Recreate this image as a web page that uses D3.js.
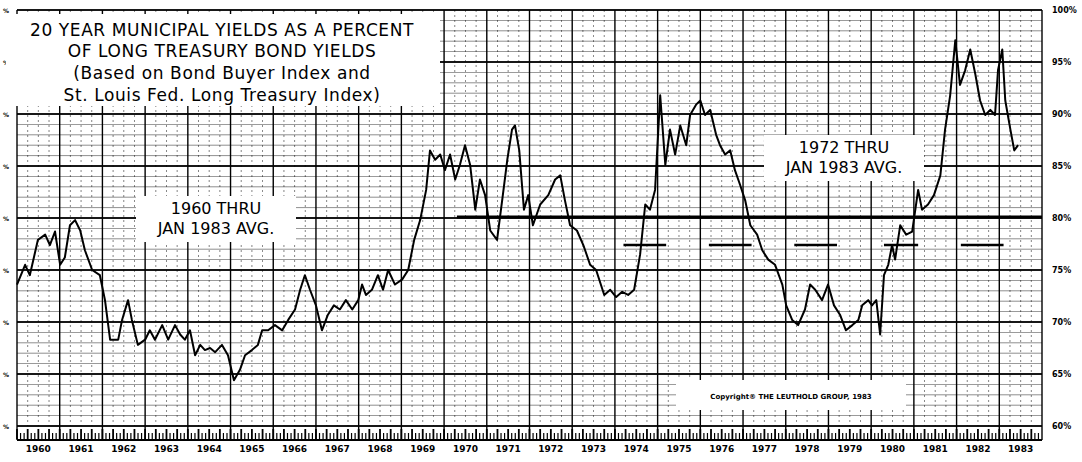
<!DOCTYPE html><html><head><meta charset="utf-8">
<script src="https://cdn.jsdelivr.net/npm/d3@7"></script>
<style>body{margin:0;background:#fff}text{font-family:"DejaVu Sans",sans-serif}</style></head><body>
<svg id="c" width="1082" height="462"></svg>
<script>
const years=d3.range(1960,1984);
const rightTicks=[100,95,90,85,80,75,70,65,60];
const t=[0,.19,.30,.49,.66,.77,.89,1.01,1.12,1.24,1.36,1.48,1.59,1.76,1.94,2.06,2.18,2.37,2.46,2.60,2.69,2.83,3.00,3.11,3.23,3.40,3.54,3.70,3.82,3.93,4.05,4.17,4.29,4.40,4.52,4.64,4.80,4.94,5.08,5.22,5.34,5.50,5.64,5.74,5.88,6.04,6.21,6.35,6.51,6.63,6.74,6.86,7.00,7.14,7.28,7.42,7.56,7.70,7.85,7.99,8.08,8.17,8.31,8.45,8.57,8.69,8.85,9.02,9.16,9.30,9.44,9.58,9.67,9.79,9.91,10.02,10.14,10.26,10.37,10.49,10.61,10.73,10.84,10.96,11.08,11.24,11.36,11.48,11.59,11.66,11.76,11.87,11.97,12.08,12.25,12.44,12.60,12.72,12.83,12.95,13.11,13.26,13.42,13.56,13.75,13.89,14.03,14.17,14.31,14.45,14.59,14.71,14.82,14.94,15.06,15.18,15.29,15.41,15.53,15.67,15.76,15.90,16.00,16.11,16.23,16.37,16.46,16.58,16.70,16.81,16.93,17.05,17.17,17.33,17.45,17.59,17.75,17.92,18.01,18.15,18.29,18.45,18.57,18.69,18.85,18.99,19.13,19.27,19.41,19.56,19.70,19.79,19.93,20.02,20.12,20.21,20.30,20.40,20.49,20.56,20.68,20.82,20.96,21.10,21.19,21.33,21.47,21.62,21.73,21.85,21.97,22.08,22.20,22.32,22.44,22.55,22.67,22.79,22.90,22.97,23.07,23.14,23.26,23.35,23.44];
const pct=[73.6,75.5,74.5,77.9,78.4,77.4,78.7,75.5,76.2,79.3,79.8,78.8,76.9,75.0,74.5,72.1,68.3,68.3,70.2,72.1,70.2,67.8,68.3,69.2,68.3,69.7,68.3,69.7,68.8,68.3,69.2,66.8,67.8,67.3,67.5,67.1,67.8,66.8,64.4,65.4,66.8,67.3,67.8,69.2,69.2,69.7,69.2,70.2,71.2,73.1,74.5,73.1,71.6,69.2,70.7,71.6,71.2,72.1,71.2,72.1,73.6,72.6,73.1,74.5,73.1,75.0,73.6,74.1,75.0,77.9,79.8,82.7,86.5,85.6,86.1,84.6,86.1,83.7,85.1,87.0,85.1,80.8,83.7,82.2,78.8,77.9,81.7,85.6,88.5,88.9,86.5,80.8,82.2,79.3,81.3,82.2,83.7,84.1,81.7,79.3,78.8,77.4,75.5,75.0,72.6,73.1,72.4,72.9,72.6,73.1,76.5,81.3,80.8,82.7,91.8,85.1,88.5,86.1,88.9,87.0,89.9,90.9,91.3,89.9,90.4,88.0,87.0,86.1,86.5,84.6,83.2,81.7,79.3,78.4,76.9,76.0,75.5,73.6,71.6,70.2,69.7,71.2,73.6,73.1,72.1,73.6,71.6,70.7,69.2,69.7,70.2,71.6,72.1,71.6,72.1,68.8,74.5,75.5,77.4,76.0,79.3,78.4,78.7,82.7,80.8,81.3,82.2,84.1,88.5,91.8,97.1,92.8,94.2,96.2,93.8,91.3,89.9,90.4,89.9,94.2,96.2,91.3,88.5,86.5,87.0];
const avg60=80.1, avg72=77.4;
const avg72Segs=[[14.2,15.2],[16.2,17.2],[18.2,19.2],[20.3,21.1],[22.1,23.1]];

const svg=d3.select("#c");
const x=d3.scaleLinear().domain([1960,1984]).range([17,1042]);
const y=d3.scaleLinear().domain([60,100]).range([426,10]);
const g=svg.append("g");
// horizontal grid
d3.range(60,100.01,1).forEach(v=>{g.append("line").attr("x1",x(1960)).attr("x2",x(1984)).attr("y1",y(v)).attr("y2",y(v))
 .attr("stroke","#000").attr("stroke-width",v%5===0?2:0.8).attr("opacity",v%5===0?0.9:0.55);});
// vertical grid
years.concat([1984]).forEach(yr=>{g.append("line").attr("x1",x(yr)).attr("x2",x(yr)).attr("y1",y(100)).attr("y2",y(60)+14).attr("stroke","#000").attr("stroke-width",1.4);
 if(yr<1984)[.25,.5,.75].forEach(q=>g.append("line").attr("x1",x(yr+q)).attr("x2",x(yr+q)).attr("y1",y(100)).attr("y2",y(60))
  .attr("stroke","#000").attr("stroke-width",0.8).attr("stroke-dasharray","2,3").attr("opacity",0.6));});
// bottom tick band
g.append("line").attr("x1",x(1960)).attr("x2",x(1984)).attr("y1",y(60)+14).attr("y2",y(60)+14).attr("stroke","#000").attr("stroke-width",2);
d3.range(1960,1984,1/12).forEach((m,i)=>{g.append("line").attr("x1",x(m)).attr("x2",x(m)).attr("y1",y(60)+(i%3===0?3:7)).attr("y2",y(60)+13).attr("stroke","#000").attr("stroke-width",i%3===0?1.8:1.2);});
// year labels
years.forEach(yr=>svg.append("text").attr("x",x(yr+0.5)).attr("y",452).attr("text-anchor","middle").attr("font-size",9).attr("font-weight","bold").text(yr));
// right labels
rightTicks.forEach(v=>svg.append("text").attr("x",1052).attr("y",y(v)+3).attr("font-size",8).attr("font-weight","bold").text(v+"%"));
// left marks
rightTicks.forEach(v=>svg.append("text").attr("x",3).attr("y",y(v)+3).attr("font-size",6).attr("font-weight","bold").text("%"));
// averages
svg.append("line").attr("x1",x(1970.3)).attr("x2",x(1984)).attr("y1",y(avg60)).attr("y2",y(avg60)).attr("stroke","#000").attr("stroke-width",3);
avg72Segs.forEach(s=>svg.append("line").attr("x1",x(1960+s[0])).attr("x2",x(1960+s[1])).attr("y1",y(avg72)).attr("y2",y(avg72)).attr("stroke","#000").attr("stroke-width",2.5));
// series line
const pts=t.map((d,i)=>[1960+d,pct[i]]);
svg.append("path").attr("d",d3.line().x(d=>x(d[0])).y(d=>y(d[1]))(pts)).attr("fill","none").attr("stroke","#000").attr("stroke-width",2).attr("stroke-linejoin","round");
// title box
svg.append("rect").attr("x",6).attr("y",14).attr("width",434).attr("height",92).attr("fill","#fff");
[["20 YEAR MUNICIPAL YIELDS AS A PERCENT",36],["OF LONG TREASURY BOND YIELDS",57],["(Based on Bond Buyer Index and",79],["St. Louis Fed. Long Treasury Index)",101]].forEach(([s,yy])=>
 svg.append("text").attr("x",222).attr("y",yy).attr("text-anchor","middle").attr("font-size",17).attr("letter-spacing",0.6).text(s));
function box(lines,cx,cy,w){svg.append("rect").attr("x",cx-w/2).attr("y",cy-22).attr("width",w).attr("height",46).attr("fill","#fff");
 lines.forEach((s,i)=>svg.append("text").attr("x",cx).attr("y",cy-4+i*20).attr("text-anchor","middle").attr("font-size",16).text(s));}
box(["1960 THRU","JAN 1983 AVG."],216,218,160);
box(["1972 THRU","JAN 1983 AVG."],844,157,160);
svg.append("rect").attr("x",676).attr("y",380).attr("width",230).attr("height",30).attr("fill","#fff");
svg.append("text").attr("x",791).attr("y",399).attr("text-anchor","middle").attr("font-size",7).attr("font-weight","bold").text("Copyright\u00AE THE LEUTHOLD GROUP, 1983");
</script></body></html>
